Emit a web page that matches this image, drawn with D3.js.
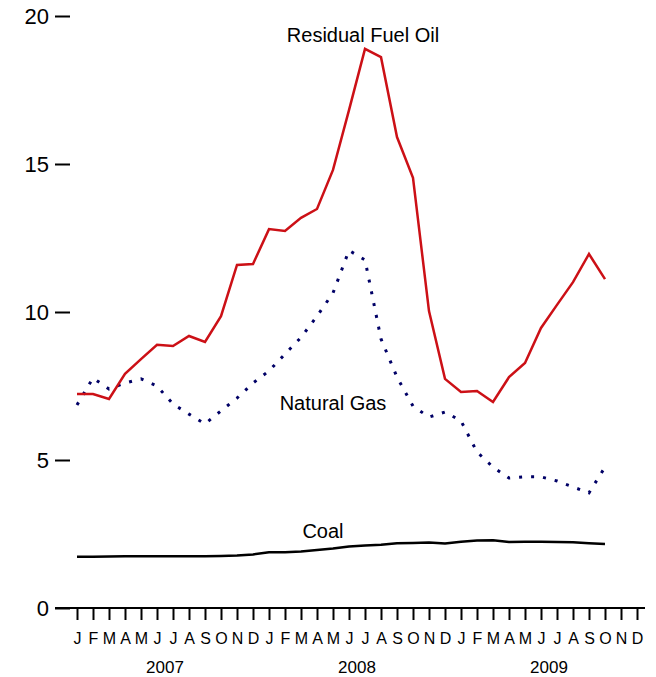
<!DOCTYPE html>
<html>
<head>
<meta charset="utf-8">
<script src="https://cdn.jsdelivr.net/npm/d3@7"></script>
<style>
  html, body { margin: 0; padding: 0; background: #fff; }
  text { font-family: "Liberation Sans", Arial, Helvetica, sans-serif; fill: #000; }
</style>
</head>
<body>
<svg id="chart" width="656" height="677"></svg>
<script>
// ---- data (monthly, Jan 2007 - Oct 2009) ----
const monthLabels = ["J","F","M","A","M","J","J","A","S","O","N","D"];
const years = ["2007","2008","2009"];
const yTicks = [0, 5, 10, 15, 20];

const residualFuelOil = [
  7.23, 7.23, 7.06, 7.91, 8.41, 8.89, 8.85, 9.19, 8.99, 9.86, 11.59, 11.62,
  12.80, 12.74, 13.18, 13.48, 14.80, 16.82, 18.89, 18.61, 15.91, 14.53, 10.03, 7.74,
  7.30, 7.33, 6.96, 7.80, 8.28, 9.46, 10.24, 11.01, 11.96, 11.11
];
const naturalGas = [
  6.86, 7.77, 7.40, 7.60, 7.74, 7.50, 6.89, 6.55, 6.22, 6.66, 7.09, 7.60,
  8.01, 8.58, 9.14, 9.86, 10.64, 12.08, 11.76, 9.09, 7.80, 6.82, 6.45, 6.62,
  6.32, 5.27, 4.76, 4.39, 4.43, 4.43, 4.29, 4.09, 3.89, 4.76
];
const coal = [
  1.73, 1.73, 1.74, 1.75, 1.75, 1.75, 1.75, 1.75, 1.75, 1.76, 1.77, 1.81,
  1.88, 1.88, 1.91, 1.96, 2.01, 2.08, 2.11, 2.14, 2.19, 2.20, 2.21, 2.18,
  2.24, 2.28, 2.29, 2.23, 2.24, 2.24, 2.23, 2.22, 2.19, 2.16
];

// ---- layout ----
const svg = d3.select("#chart");
const nMonths = monthLabels.length * years.length;
const x = d3.scaleLinear().domain([0, nMonths - 1]).range([77, 637]);
const y = d3.scaleLinear().domain([0, 20]).range([608, 16]);

// y axis: ticks only (no spine)
const yAxis = d3.axisLeft(y).tickValues(yTicks).tickSize(15).tickPadding(6).tickFormat(d3.format("d"));
const gy = svg.append("g").attr("transform", "translate(70,0)").call(yAxis);
gy.select(".domain").remove();
gy.selectAll(".tick line").attr("stroke", "#000").attr("stroke-width", 2);
gy.selectAll(".tick text").style("font-size", "22px").attr("dy", "0.36em")
  .style("font-family", '"Liberation Sans", Arial, sans-serif');

// x axis baseline
svg.append("line")
  .attr("x1", 55).attr("x2", 645)
  .attr("y1", y(0)).attr("y2", y(0))
  .attr("stroke", "#000").attr("stroke-width", 2);

// x axis month ticks
const monthIdx = d3.range(nMonths);
const xAxis = d3.axisBottom(x).tickValues(monthIdx).tickSize(12).tickPadding(13)
  .tickFormat(i => monthLabels[i % 12]);
const gx = svg.append("g").attr("transform", `translate(0,${y(0)})`).call(xAxis);
gx.select(".domain").remove();
gx.selectAll(".tick line").attr("stroke", "#000").attr("stroke-width", 2);
gx.selectAll(".tick text")
  .style("font-size", "16px")
  .style("font-family", '"Liberation Sans", Arial, sans-serif');

// year labels
svg.append("g").selectAll("text").data(years).join("text")
  .attr("x", (d, i) => x(i * 12 + 5.5))
  .attr("y", 673)
  .attr("text-anchor", "middle")
  .style("font-size", "17px")
  .text(d => d);

// ---- lines ----
const line = d3.line().x((d, i) => x(i)).y(d => y(d));

svg.append("path").datum(coal)
  .attr("d", line).attr("fill", "none")
  .attr("stroke", "#000").attr("stroke-width", 2.5)
  .attr("stroke-linejoin", "round");

svg.append("path").datum(naturalGas)
  .attr("d", line).attr("fill", "none")
  .attr("stroke", "#000066").attr("stroke-width", 3)
  .attr("stroke-dasharray", "3,9");

svg.append("path").datum(residualFuelOil)
  .attr("d", line).attr("fill", "none")
  .attr("stroke", "#cc1016").attr("stroke-width", 2.5)
  .attr("stroke-linejoin", "miter");

// ---- series labels ----
const seriesLabels = [
  { text: "Residual Fuel Oil", x: 363, y: 42 },
  { text: "Natural Gas", x: 333, y: 410 },
  { text: "Coal", x: 323, y: 538 }
];
svg.append("g").selectAll("text").data(seriesLabels).join("text")
  .attr("x", d => d.x).attr("y", d => d.y)
  .attr("text-anchor", "middle")
  .style("font-size", "20px")
  .text(d => d.text);
</script>
</body>
</html>
